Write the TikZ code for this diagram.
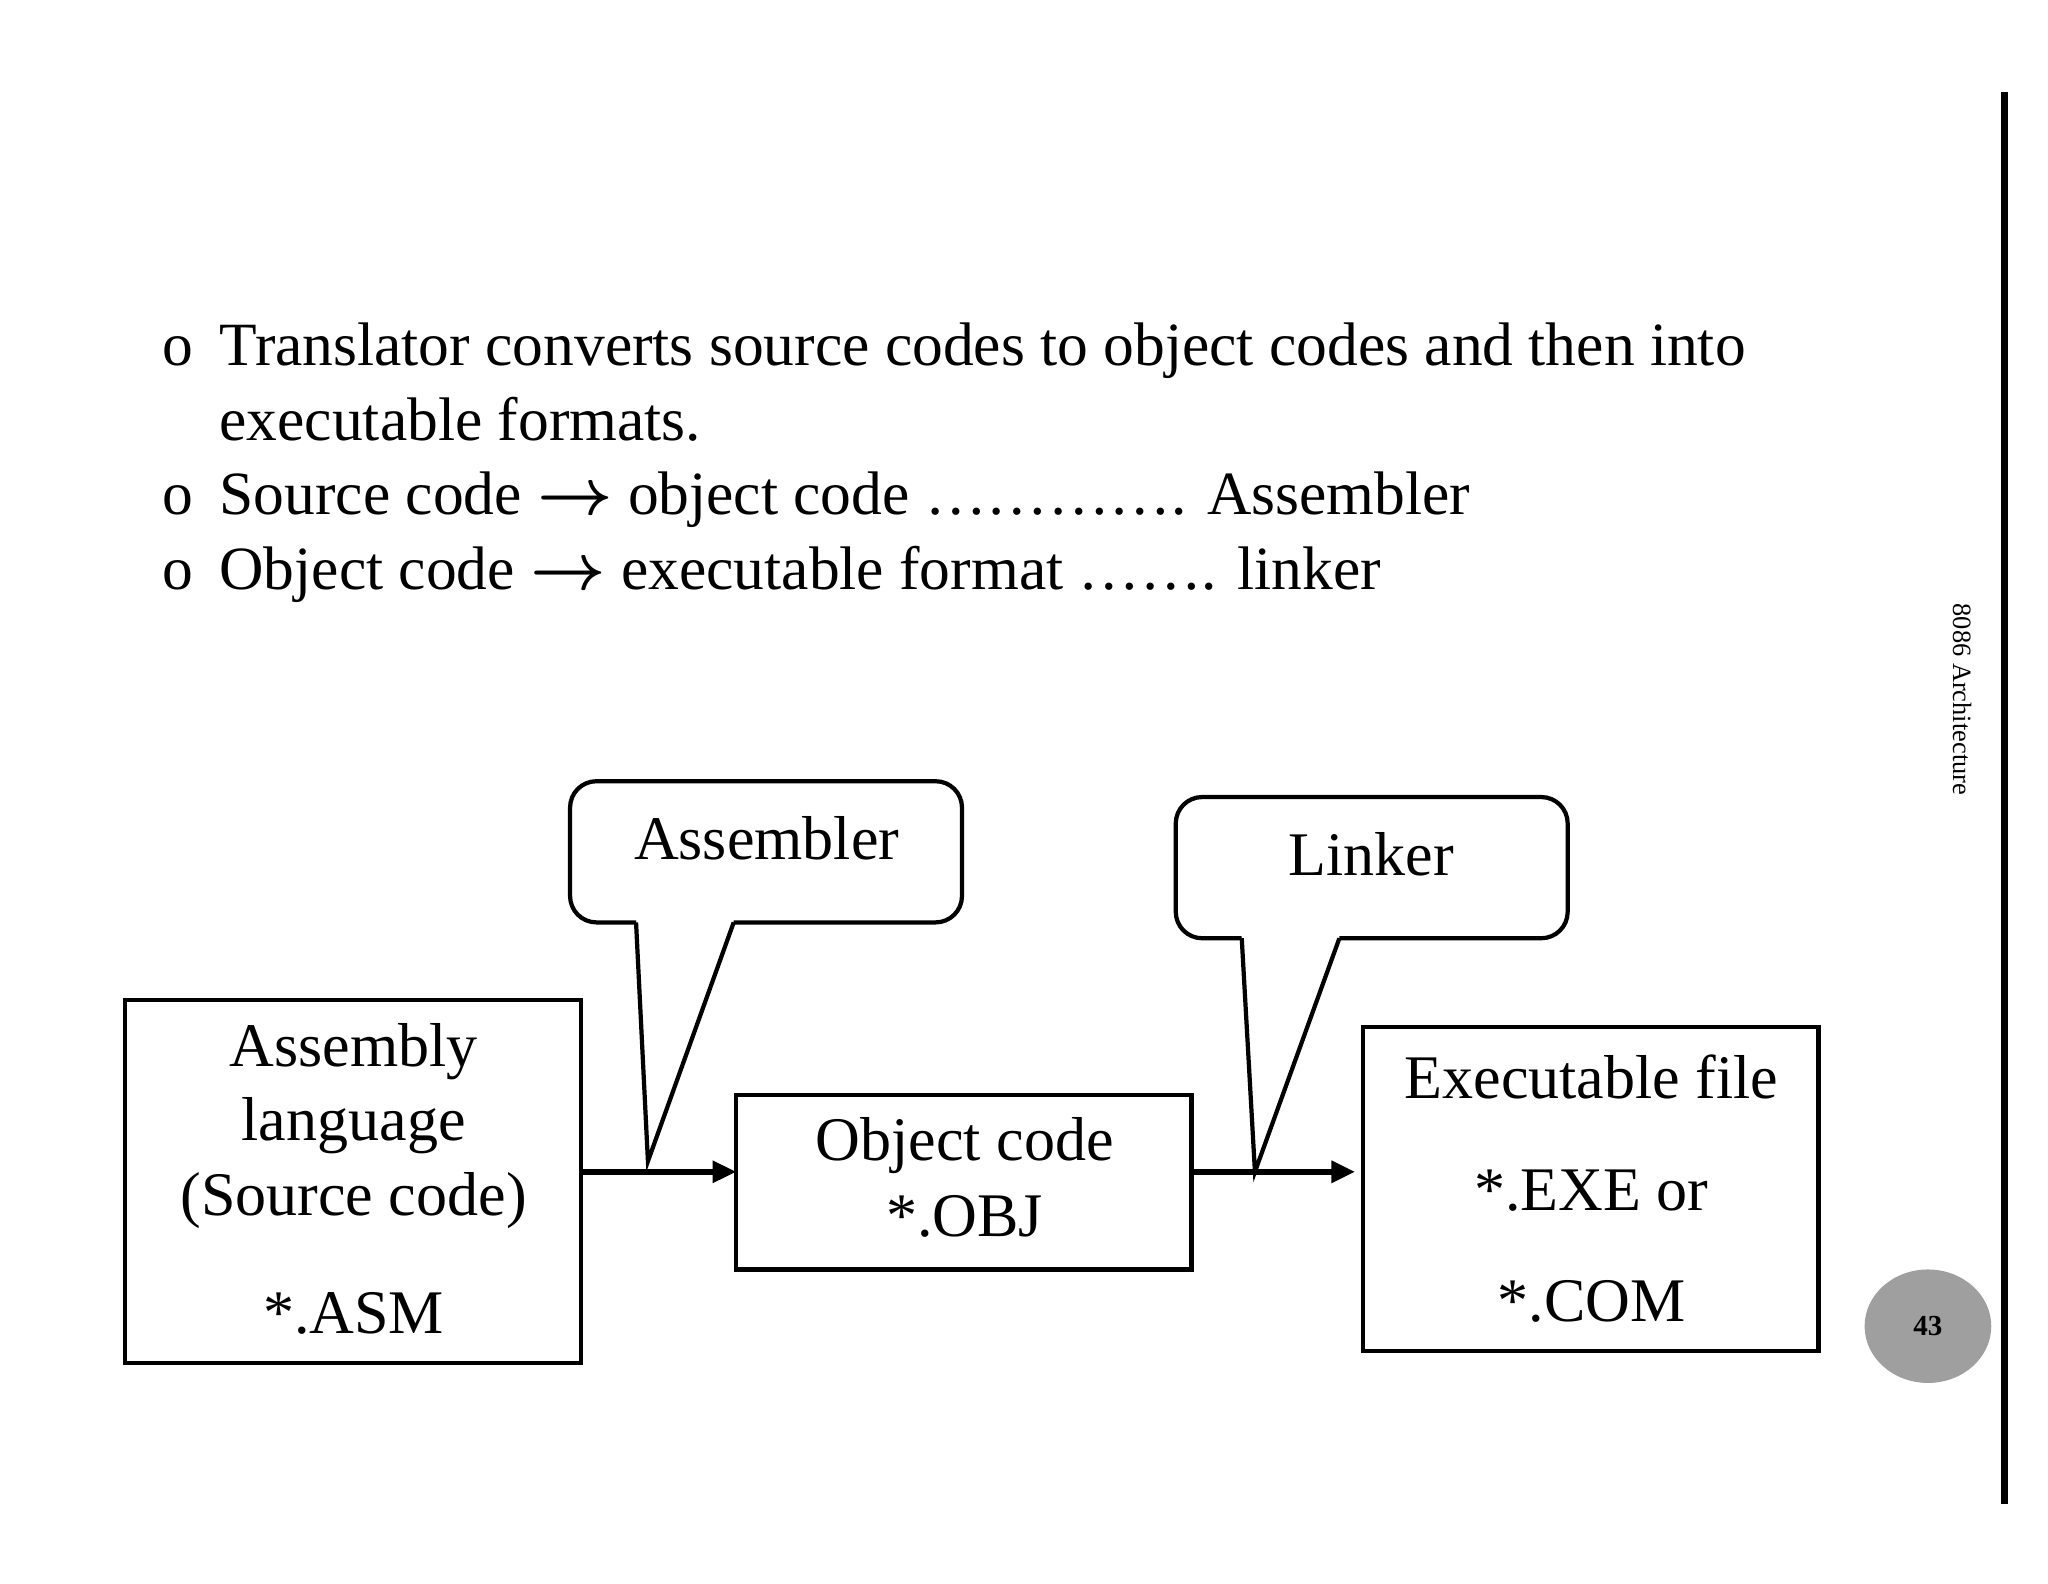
\documentclass[tikz,border=0pt]{standalone}
\usepackage{amsmath}
\usepackage{fontspec}
\setmainfont{Liberation Serif}
\usetikzlibrary{arrows.meta}
\begin{document}
\begin{tikzpicture}[x=0.5pt,y=-0.5pt,
  txt/.style={font=\fontsize{23.3}{27}\selectfont,inner sep=0pt},
  btxt/.style={font=\fontsize{23.5}{27}\selectfont,inner sep=0pt},
  box/.style={draw,line width=1.6pt,inner sep=0pt},
  arr/.style={line width=2.2pt,-{Triangle[length=9pt,width=8pt]}},
  call/.style={draw,line width=1.6pt,rounded corners=10pt}]
\useasboundingbox (0,0) rectangle (1552,1200);
% right bar
\draw[line width=3pt] (1519,70) -- (1519,1140);
\node[font=\fontsize{10}{12}\selectfont,rotate=-90] (side) at (1487,530) {8086 Architecture};
\fill[gray!75] (1461,1005) ellipse (48 and 43);
\node[font=\fontsize{11}{13}\selectfont\bfseries] (pg) at (1461,1005) {43};
% bullets
\foreach \y/\n in {265/a,378/b,435/c}{\node[txt,anchor=base west] (o\n) at (123,\y+12) {o};}
\node[txt,anchor=base west] (l1) at (166,277) {Translator converts source codes to object codes and then into};
\node[txt,anchor=base west] (l2) at (166,334) {executable formats.};
\node[txt,anchor=base west] (l3) at (166,390) {Source code $\boldsymbol{\rightarrow}$ object code \dots\dots\dots\dots. Assembler};
\node[txt,anchor=base west] (l4) at (166,447) {Object code $\boldsymbol{\rightarrow}$ executable format \dots\dots. linker};
% boxes
\node[box,minimum width=172.5pt,minimum height=137.5pt] (b1) at (267.5,895.5) {};
\node[btxt] (t1a) at (268,797) {Assembly};
\node[btxt] (t1b) at (268,853) {language};
\node[btxt] (t1c) at (268,910) {(Source code)};
\node[btxt] (t1d) at (268,995) {*.ASM};
\node[box,minimum width=172.5pt,minimum height=66pt] (b2) at (730.5,896) {};
\node[btxt] (t2a) at (731,868) {Object code};
\node[btxt] (t2b) at (731,922) {*.OBJ};
\node[box,minimum width=172.5pt,minimum height=123pt] (b3) at (1205.5,901) {};
\node[btxt] (t3a) at (1206,816) {Executable file};
\node[btxt] (t3b) at (1206,902) {*.EXE or};
\node[btxt] (t3c) at (1206,986) {*.COM};
% arrows
\coordinate (s1) at (441,888); \coordinate (e1) at (558,888);
\coordinate (s2) at (905,888); \coordinate (e2) at (1027,888);
\draw[arr] (s1) -- (e1);
\draw[arr] (s2) -- (e2);
% callouts
\draw[call] (482,699) -- (432,699) -- (432,592) -- (729,592) -- (729,699) -- (556,699);
\draw[line width=1.6pt,line join=miter] (482,699) -- (491,880) -- (556,699);
\node[btxt] (c1) at (581,635) {Assembler};
\draw[call] (941,711) -- (891,711) -- (891,604) -- (1188,604) -- (1188,711) -- (1015,711);
\draw[line width=1.6pt,line join=miter] (941,711) -- (951,888) -- (1015,711);
\node[btxt] (c2) at (1039,647) {Linker};
\end{tikzpicture}
\end{document}
